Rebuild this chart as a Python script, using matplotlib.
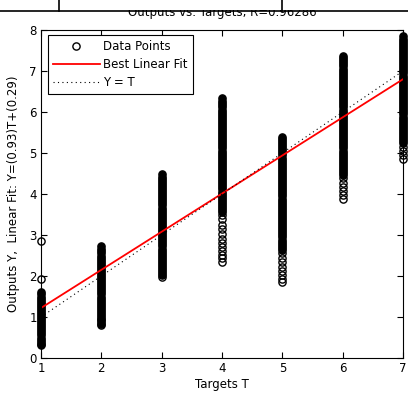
import matplotlib
matplotlib.use("Agg")
import matplotlib.pyplot as plt
from matplotlib.lines import Line2D
from matplotlib.patches import Rectangle

plt.rcParams['font.family'] = ['DejaVu Sans']

# network outputs, grouped by target value
# sparse = the separate circles at the ends, dense = the solid run of circles
target_values = [1, 2, 3, 4, 5, 6, 7]

sparse_t1 = [1.93, 2.85]
dense_t1 = [0.31, 0.35, 0.40, 0.45, 0.50, 0.55, 0.60, 0.65, 0.70, 0.75, 0.80, 0.85, 0.90,
            0.95, 1.00, 1.05, 1.10, 1.15, 1.20, 1.25, 1.30, 1.35, 1.40, 1.45, 1.50, 1.55,
            1.61]
sparse_t2 = [0.80]
dense_t2 = [0.84, 0.88, 0.92, 0.96, 1.00, 1.05, 1.10, 1.15, 1.20, 1.25, 1.30, 1.35, 1.40,
            1.45, 1.50, 1.55, 1.60, 1.65, 1.70, 1.75, 1.80, 1.85, 1.90, 1.95, 2.00, 2.05,
            2.10, 2.15, 2.20, 2.25, 2.30, 2.35, 2.40, 2.45, 2.50, 2.55, 2.60, 2.65, 2.72]
sparse_t3 = [1.97]
dense_t3 = [2.02, 2.07, 2.12, 2.17, 2.22, 2.27, 2.32, 2.37, 2.42, 2.47, 2.52, 2.57,
            2.62, 2.67, 2.72, 2.77, 2.82, 2.87, 2.92, 2.97, 3.02, 3.07, 3.12, 3.17, 3.22,
            3.27, 3.32, 3.37, 3.42, 3.47, 3.52, 3.57, 3.62, 3.67, 3.72, 3.77, 3.82, 3.87,
            3.92, 3.97, 4.02, 4.07, 4.12, 4.17, 4.22, 4.27, 4.32, 4.37, 4.42, 4.48]
sparse_t4 = [2.35, 2.43, 2.52, 2.60, 2.71, 2.80, 2.90, 3.02, 3.14, 3.25, 3.38, 3.48]
dense_t4 = [3.56, 3.61, 3.66, 3.71, 3.76, 3.81, 3.86, 3.91, 3.96, 4.01, 4.06, 4.11, 4.16,
            4.21, 4.26, 4.31, 4.36, 4.41, 4.46, 4.51, 4.56, 4.61, 4.66, 4.71, 4.76, 4.81,
            4.86, 4.91, 4.96, 5.01, 5.06, 5.11, 5.16, 5.21, 5.26, 5.31, 5.36, 5.41, 5.46,
            5.51, 5.56, 5.61, 5.66, 5.71, 5.76, 5.81, 5.86, 5.91, 5.96, 6.01, 6.06, 6.11,
            6.16, 6.21, 6.26, 6.33]
sparse_t5 = [1.85, 1.93, 2.02, 2.12, 2.22, 2.33, 2.45, 2.56]
dense_t5 = [2.64, 2.69, 2.74, 2.79, 2.84, 2.89, 2.94, 2.99, 3.04, 3.09, 3.14, 3.19, 3.24,
            3.29, 3.34, 3.39, 3.44, 3.49, 3.54, 3.59, 3.64, 3.69, 3.74, 3.79, 3.84, 3.89,
            3.94, 3.99, 4.04, 4.09, 4.14, 4.19, 4.24, 4.29, 4.34, 4.39, 4.44, 4.49, 4.54,
            4.59, 4.64, 4.69, 4.74, 4.79, 4.84, 4.89, 4.94, 4.99, 5.04, 5.09, 5.14, 5.19,
            5.24, 5.29, 5.34, 5.40]
sparse_t6 = [3.88, 3.97, 4.07, 4.18, 4.28, 4.38]
dense_t6 = [4.46, 4.51, 4.56, 4.61, 4.66, 4.71, 4.76, 4.81, 4.86, 4.91, 4.96, 5.01, 5.06,
            5.11, 5.16, 5.21, 5.26, 5.31, 5.36, 5.41, 5.46, 5.51, 5.56, 5.61, 5.66, 5.71,
            5.76, 5.81, 5.86, 5.91, 5.96, 6.01, 6.06, 6.11, 6.16, 6.21, 6.26, 6.31, 6.36,
            6.41, 6.46, 6.51, 6.56, 6.61, 6.66, 6.71, 6.76, 6.81, 6.86, 6.91, 6.96, 7.01,
            7.06, 7.11, 7.16, 7.21, 7.26, 7.31, 7.36]
sparse_t7 = [4.85, 4.95, 5.05, 5.15]
dense_t7 = [5.24, 5.29, 5.34, 5.39, 5.44, 5.49, 5.54, 5.59, 5.64, 5.69, 5.74, 5.79, 5.84,
            5.89, 5.94, 5.99, 6.04, 6.09, 6.14, 6.19, 6.24, 6.29, 6.34, 6.39, 6.44, 6.49,
            6.54, 6.59, 6.64, 6.69, 6.74, 6.79, 6.84, 6.89, 6.94, 6.99, 7.04, 7.09, 7.14,
            7.19, 7.24, 7.29, 7.34, 7.39, 7.44, 7.49, 7.54, 7.59, 7.64, 7.69, 7.74, 7.79,
            7.85]

sparse_outputs = [sparse_t1, sparse_t2, sparse_t3, sparse_t4, sparse_t5, sparse_t6, sparse_t7]
dense_outputs = [dense_t1, dense_t2, dense_t3, dense_t4, dense_t5, dense_t6, dense_t7]

fit_slope = 0.93
fit_intercept = 0.29
r_value = 0.96286


def flatten(groups):
    xs, ys = [], []
    for t, outs in zip(target_values, groups):
        xs += [t] * len(outs)
        ys += outs
    return xs, ys


fig = plt.figure(figsize=(4.08, 3.95), dpi=100)
ax = fig.add_axes([41 / 408, 37 / 395, 362 / 408, 328 / 395])

dx, dy = flatten(dense_outputs)
sx, sy = flatten(sparse_outputs)
ax.plot(dx, dy, 'o', color='black', markerfacecolor='black',
        markersize=5.2, markeredgewidth=1.0, clip_on=False)
ax.plot(sx, sy, 'o', color='black', markerfacecolor='none',
        markersize=5.2, markeredgewidth=1.0, label='Data Points', clip_on=False)
fit_x = [1, 7]
fit_y = [fit_slope * x + fit_intercept for x in fit_x]
ax.plot(fit_x, fit_y, '-', color='red', lw=1.3, label='Best Linear Fit')
ax.plot([1, 7], [1, 7], color='black', lw=0.8, linestyle=(0, (1, 3)), label='Y = T')

ax.set_xlim(1, 7)
ax.set_ylim(0, 8)
ax.set_xticks(target_values)
ax.set_yticks(range(0, 9))
ax.tick_params(direction='in', length=4, width=0.8, top=True, right=True,
               labelsize=8.5, pad=3)
for s in ax.spines.values():
    s.set_linewidth(0.8)

ax.set_xlabel('Targets T', fontsize=8.5, labelpad=2)
ax.set_ylabel('Outputs Y,  Linear Fit: Y=(%.2g)T+(%.2g)' % (fit_slope, fit_intercept),
              fontsize=8.5, labelpad=7)
ax.set_title('Outputs vs. Targets, R=%.5f' % r_value, fontsize=8.5, pad=10)

leg = ax.legend(loc='upper left', bbox_to_anchor=(0.019, 0.985), borderaxespad=0,
                fontsize=8.5, handlelength=4.0, labelspacing=0.45, fancybox=False,
                edgecolor='black', framealpha=1, borderpad=0.4, handletextpad=0.3)
leg.get_frame().set_linewidth(0.8)

# the strip of the window above the plot
fig.add_artist(Rectangle((0, 1 - 10 / 395), 1, 10 / 395, transform=fig.transFigure,
                         facecolor='white', edgecolor='none', zorder=10))
fig.add_artist(Line2D([0, 1], [1 - 10.5 / 395] * 2, color='black', lw=1.2, zorder=11))
fig.add_artist(Line2D([59 / 408] * 2, [1 - 10.5 / 395, 1], color='black', lw=1.2, zorder=11))
fig.add_artist(Line2D([282 / 408] * 2, [1 - 10.5 / 395, 1], color='black', lw=1.2, zorder=11))

fig.savefig('out.png', dpi=100)
